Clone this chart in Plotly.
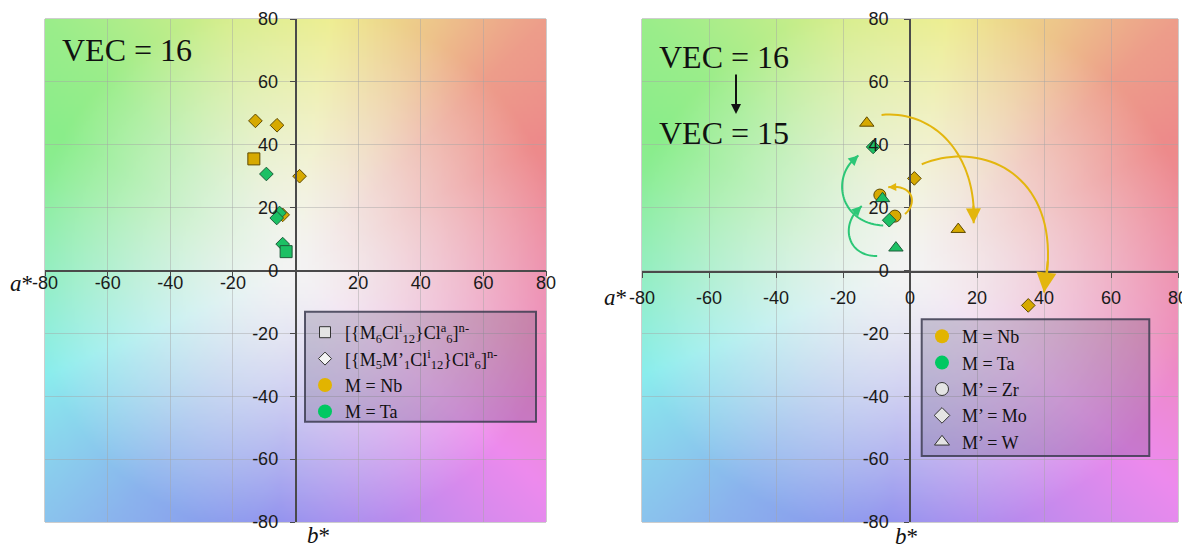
import numpy as np
import plotly.graph_objects as go
import zlib, struct, base64

# ---------------- data ----------------
# Left panel (VEC = 16)
L_nb_sq_x = [-13.3]
L_nb_sq_y = [35.5]
L_nb_di_x = [-12.8, -5.9, 1.3, -4.1]
L_nb_di_y = [47.6, 46.2, 30.0, 17.7]
L_ta_sq_x = [-3.0]
L_ta_sq_y = [6.0]
L_ta_di_x = [-9.3, -5.1, -6.0, -4.1]
L_ta_di_y = [30.7, 18.3, 16.7, 8.4]

# Right panel (VEC = 16 -> VEC = 15)
R_nb_zr_x = [-9.0, -4.5]
R_nb_zr_y = [24.0, 17.3]
R_nb_mo_x = [1.3, 35.3]
R_nb_mo_y = [29.3, -11.1]
R_nb_w_x = [-12.9, 14.4]
R_nb_w_y = [46.9, 13.1]
R_ta_mo_x = [-11.0, -6.2]
R_ta_mo_y = [39.3, 16.0]
R_ta_w_x = [-8.2, -4.2]
R_ta_w_y = [22.9, 7.2]

tick_vals = [-80, -60, -40, -20, 0, 20, 40, 60, 80]
tick_vals_left_x = [-80, -60, -40, -20, 20, 40, 60, 80]

# curved arrows (cubic bezier control points, data units of right panel)
gold_curves = [
    [(-8.5, 49.5), (8, 51), (20, 36), (19, 15)],
    [(3.5, 33.8), (22, 42), (47, 30), (40, -7)],
    [(-1.5, 18), (2, 21), (1.5, 27.5), (-6.5, 26.5)],
]
gold_head_sizes = [1.5, 2.0, 0.8]
green_curves = [
    [(-8, 14.3), (-21, 15), (-24, 30), (-15.4, 36.6)],
    [(-9.8, 4.6), (-19, 4.5), (-21, 15), (-14.4, 20.5)],
]
green_head_sizes = [1.0, 1.0]

# hue mapping for the a*b* colour-plane background (angle deg -> hue deg)
bg_angles = [-16, 23, 45, 60, 82, 106, 135, 158, 180, 208, 234, 262, 293, 319, 344, 383]
bg_hues = [-30, -3, 12, 35, 60, 75, 110, 125, 150, 187, 215, 236, 270, 300, 330, 357]

# ---------------- styles / geometry ----------------
OFF = 8                      # page body margin
WIN_W, WIN_H = 1190, 551
W, H = WIN_W - OFF, WIN_H - OFF
NB = '#D6A900'
NB_LINE = '#5E4A00'
TA = '#1CC064'
TA_LINE = '#1E5C3A'
NB_LEG = '#E2B400'
TA_LEG = '#00C862'
GOLD = '#E3B60E'
GREEN = '#2CC777'
SERIF = 'Times New Roman, Liberation Serif, serif'
SANS = 'Arial, Liberation Sans, sans-serif'

PT, PB = 19, 522             # plot area top / bottom (screen px)
L0, L1 = 45, 546             # left panel x extent (screen px)
R0, R1 = 642, 1178           # right panel x extent (screen px)


def px(x):
    return (x - OFF) / W


def py(y):
    return (PB - y) / (PB - PT)


def background_png(n=140):
    a = np.linspace(-80, 80, n)
    b = np.linspace(80, -80, n)
    A, B = np.meshgrid(a, b)
    r = np.hypot(A, B)
    th = np.degrees(np.arctan2(B, A)) % 360
    h = np.interp(th, bg_angles, bg_hues) % 360
    s = np.clip(0.41 * (r / 85.0) ** 1.4, 0, 0.42)
    v = 0.93 + 0.025 * (1 - s / 0.42)
    hh = h / 60.0
    i = np.floor(hh).astype(int) % 6
    f = hh - np.floor(hh)
    p = v * (1 - s)
    q = v * (1 - f * s)
    t = v * (1 - (1 - f) * s)
    conds = [i == 0, i == 1, i == 2, i == 3, i == 4, i == 5]
    R = np.select(conds, [v, q, p, p, t, v])
    G = np.select(conds, [t, v, v, q, p, p])
    Bl = np.select(conds, [p, p, t, v, v, q])
    rgb = (np.stack([R, G, Bl], axis=-1) * 255).round().astype(np.uint8)
    hgt, wid, _ = rgb.shape
    raw = b''.join(b'\x00' + rgb[k].tobytes() for k in range(hgt))

    def chunk(tag, data):
        c = struct.pack('>I', len(data)) + tag + data
        return c + struct.pack('>I', zlib.crc32(tag + data) & 0xffffffff)

    png = (b'\x89PNG\r\n\x1a\n'
           + chunk(b'IHDR', struct.pack('>IIBBBBB', wid, hgt, 8, 2, 0, 0, 0))
           + chunk(b'IDAT', zlib.compress(raw, 9))
           + chunk(b'IEND', b''))
    return 'data:image/png;base64,' + base64.b64encode(png).decode()


def bez(pts, t):
    p = np.array(pts, dtype=float)
    t = np.atleast_1d(t)[:, None]
    return ((1 - t) ** 3) * p[0] + 3 * ((1 - t) ** 2) * t * p[1] + 3 * (1 - t) * t ** 2 * p[2] + t ** 3 * p[3]


def mk(sym, fill, line, size, lw=1):
    return dict(symbol=sym, color=fill, size=size, line=dict(color=line, width=lw))


fig = go.Figure()

# ---- left panel data ----
fig.add_trace(go.Scatter(x=L_nb_sq_x, y=L_nb_sq_y, mode='markers', marker=mk('square', NB, NB_LINE, 12),
                         showlegend=False, xaxis='x', yaxis='y'))
fig.add_trace(go.Scatter(x=L_nb_di_x, y=L_nb_di_y, mode='markers', marker=mk('diamond', NB, NB_LINE, 10.5),
                         showlegend=False, xaxis='x', yaxis='y'))
fig.add_trace(go.Scatter(x=L_ta_di_x, y=L_ta_di_y, mode='markers', marker=mk('diamond', TA, TA_LINE, 10.5),
                         showlegend=False, xaxis='x', yaxis='y'))
fig.add_trace(go.Scatter(x=L_ta_sq_x, y=L_ta_sq_y, mode='markers', marker=mk('square', TA, TA_LINE, 12),
                         showlegend=False, xaxis='x', yaxis='y'))

# ---- left legend ----
leg_left = [
    ('[{M<sub>6</sub>Cl<sup>i</sup><sub>12</sub>}Cl<sup>a</sup><sub>6</sub>]<sup>n-</sup>', mk('square', '#E4E4E4', '#333', 11)),
    ('[{M<sub>5</sub>M’<sub>1</sub>Cl<sup>i</sup><sub>12</sub>}Cl<sup>a</sup><sub>6</sub>]<sup>n-</sup>', mk('diamond', '#F4F4F4', '#333', 10)),
    ('M = Nb', mk('circle', NB_LEG, NB_LEG, 14, 0)),
    ('M = Ta', mk('circle', TA_LEG, TA_LEG, 14, 0)),
]
for name, m in leg_left:
    fig.add_trace(go.Scatter(x=[None], y=[None], mode='markers', marker=m, name=name,
                             legend='legend', xaxis='x', yaxis='y'))

# ---- right panel data ----
fig.add_trace(go.Scatter(x=R_nb_zr_x, y=R_nb_zr_y, mode='markers', marker=mk('circle', NB, NB_LINE, 12),
                         showlegend=False, xaxis='x2', yaxis='y2'))
fig.add_trace(go.Scatter(x=R_nb_mo_x, y=R_nb_mo_y, mode='markers', marker=mk('diamond', NB, NB_LINE, 10.5),
                         showlegend=False, xaxis='x2', yaxis='y2'))
fig.add_trace(go.Scatter(x=R_nb_w_x, y=R_nb_w_y, mode='markers', marker=mk('triangle-up', NB, NB_LINE, 12.5),
                         showlegend=False, xaxis='x2', yaxis='y2'))
fig.add_trace(go.Scatter(x=R_ta_mo_x, y=R_ta_mo_y, mode='markers', marker=mk('diamond', TA, TA_LINE, 10.5),
                         showlegend=False, xaxis='x2', yaxis='y2'))
fig.add_trace(go.Scatter(x=R_ta_w_x, y=R_ta_w_y, mode='markers', marker=mk('triangle-up', TA, TA_LINE, 12.5),
                         showlegend=False, xaxis='x2', yaxis='y2'))

leg_right = [
    ('M = Nb', mk('circle', NB_LEG, NB_LEG, 14, 0)),
    ('M = Ta', mk('circle', TA_LEG, TA_LEG, 14, 0)),
    ('M’ = Zr', mk('circle', '#E4E4E4', '#333', 13)),
    ('M’ = Mo', mk('diamond', '#E4E4E4', '#333', 12)),
    ('M’ = W', mk('triangle-up', '#E4E4E4', '#333', 13)),
]
for name, m in leg_right:
    fig.add_trace(go.Scatter(x=[None], y=[None], mode='markers', marker=m, name=name,
                             legend='legend2', xaxis='x2', yaxis='y2'))

# ---- axes ----
def axis_common(vals):
    return dict(range=[-80, 80], showgrid=True, gridcolor='rgba(165,165,165,0.45)', gridwidth=1,
                zeroline=False, showline=True, linecolor='#4a4a4a', linewidth=1.5,
                ticks='outside', ticklen=5, tickcolor='#4a4a4a', tickwidth=1.2,
                tickvals=vals, ticktext=[str(v) for v in vals], automargin=False,
                tickfont=dict(family=SANS, size=18, color='#1a1a1a'), anchor='free')

fig.update_layout(
    width=W, height=H,
    margin=dict(l=0, r=0, t=PT - OFF, b=WIN_H - PB, autoexpand=False),
    paper_bgcolor='white', plot_bgcolor='white',
    xaxis=dict(**axis_common(tick_vals_left_x), domain=[px(L0), px(L1)], position=py(270.5),
               ticklabelstandoff=-9),
    yaxis=dict(**axis_common(tick_vals), domain=[0, 1], position=px((L0 + L1) / 2),
               ticklabelstandoff=8),
    xaxis2=dict(**axis_common(tick_vals), domain=[px(R0), px(R1)], position=py(272),
                ticklabelstandoff=5),
    yaxis2=dict(**axis_common(tick_vals), domain=[0, 1], position=px((R0 + R1) / 2),
                ticklabelstandoff=12),
    legend=dict(x=px(305), y=py(314), xanchor='left', yanchor='top', bgcolor='rgba(0,0,0,0)',
                borderwidth=0, font=dict(family=SERIF, size=18, color='#111'), tracegroupgap=0),
    legend2=dict(x=px(922), y=py(318), xanchor='left', yanchor='top', bgcolor='rgba(0,0,0,0)',
                 borderwidth=0, font=dict(family=SERIF, size=18, color='#111'), tracegroupgap=0),
)

bg = background_png()
fig.add_layout_image(dict(source=bg, xref='x', yref='y', x=-80, y=80, sizex=160, sizey=160,
                          sizing='stretch', layer='below', xanchor='left', yanchor='top'))
fig.add_layout_image(dict(source=bg, xref='x2', yref='y2', x=-80, y=80, sizex=160, sizey=160,
                          sizing='stretch', layer='below', xanchor='left', yanchor='top'))

# panel frames
for xr, yr in (('x domain', 'y domain'), ('x2 domain', 'y2 domain')):
    fig.add_shape(type='rect', xref=xr, yref=yr, x0=0, x1=1, y0=0, y1=1,
                  line=dict(color='#9c9c9c', width=1), layer='below')

# legend boxes
fig.add_shape(type='rect', xref='paper', yref='paper', x0=px(305), x1=px(536), y0=py(421.7), y1=py(311.7),
              fillcolor='rgba(70,60,100,0.22)', line=dict(color='rgba(60,60,80,0.85)', width=2), layer='above')
fig.add_shape(type='rect', xref='paper', yref='paper', x0=px(921.7), x1=px(1149.3), y0=py(456), y1=py(319.3),
              fillcolor='rgba(70,60,100,0.22)', line=dict(color='rgba(60,60,80,0.85)', width=2), layer='above')


# curved arrows
def add_curve(pts, color, head):
    ts = np.linspace(0, 1, 40)
    xy = bez(pts, ts)
    path = 'M ' + ' L '.join(f'{a:.3f},{b:.3f}' for a, b in xy)
    fig.add_shape(type='path', path=path, xref='x2', yref='y2', line=dict(color=color, width=2), layer='above')
    tail = bez(pts, 0.9)[0]
    end = pts[3]
    fig.add_annotation(x=end[0], y=end[1], ax=tail[0], ay=tail[1], xref='x2', yref='y2', axref='x2', ayref='y2',
                       text='', showarrow=True, arrowhead=2, arrowsize=head, arrowwidth=2, arrowcolor=color,
                       standoff=0)


for c, hs in zip(gold_curves, gold_head_sizes):
    add_curve(c, GOLD, hs)
for c, hs in zip(green_curves, green_head_sizes):
    add_curve(c, GREEN, hs)

# texts
big = dict(family=SERIF, size=32, color='#111')
fig.add_annotation(x=px(60), y=py(50), xref='paper', yref='paper', text='VEC = 16', showarrow=False,
                   xanchor='left', yanchor='middle', font=big)
fig.add_annotation(x=px(657), y=py(57), xref='paper', yref='paper', text='VEC = 16', showarrow=False,
                   xanchor='left', yanchor='middle', font=big)
fig.add_annotation(x=px(657), y=py(133), xref='paper', yref='paper', text='VEC = 15', showarrow=False,
                   xanchor='left', yanchor='middle', font=big)
fig.add_annotation(x=px(736), y=py(114), xref='paper', yref='paper', ax=0, ay=-41, text='', showarrow=True,
                   arrowhead=2, arrowsize=1, arrowwidth=2, arrowcolor='#111')

axf = dict(family=SERIF, size=23, color='#111')
for xx, yy, txt in ((21, 283, '<i>a</i>*'), (615, 297, '<i>a</i>*'),
                    (318, 535, '<i>b</i>*'), (906, 536, '<i>b</i>*')):
    fig.add_annotation(x=px(xx), y=py(yy), xref='paper', yref='paper', text=txt,
                       showarrow=False, font=axf, xanchor='center', yanchor='middle')

fig.write_html('out.html')
